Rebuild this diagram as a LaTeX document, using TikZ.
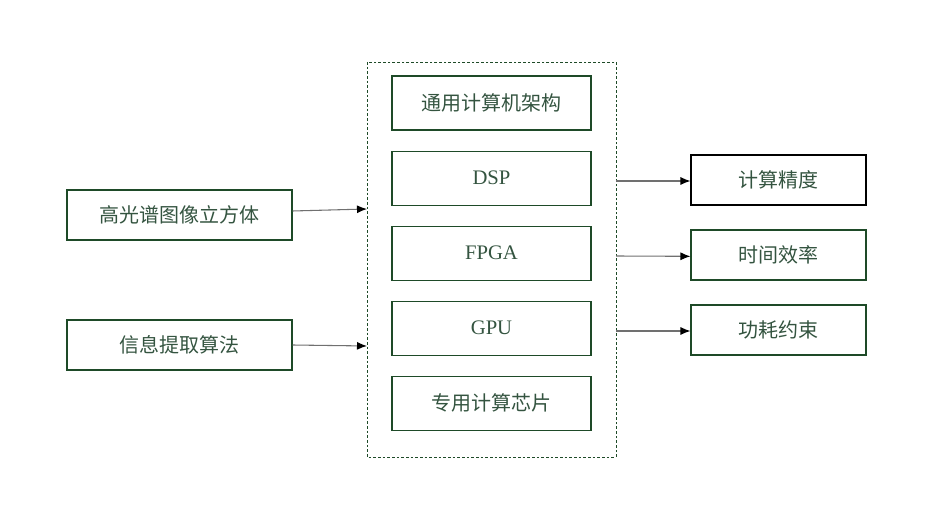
\documentclass[tikz,border=0pt]{standalone}
\usepackage{fontspec}
\setmainfont{Liberation Serif}
\newfontfamily\cjk{Noto Sans CJK SC}
\usetikzlibrary{arrows.meta,positioning}
\definecolor{cA}{HTML}{1e4a28}
\definecolor{cT}{HTML}{345440}
\definecolor{cL}{HTML}{707070}
\tikzset{
  box/.style={draw=cA,thick,text=cT,minimum width=168.75pt,minimum height=37.5pt,
              inner sep=0pt,font=\cjk\fontsize{15}{17}\selectfont},
  inbox/.style={box,minimum width=149.25pt,minimum height=40.5pt},
  outbox/.style={box,minimum width=131.25pt,minimum height=37.5pt},
  latin/.style={font=\fontsize{15.5}{17}\selectfont},
  frame/.style={draw=cA,dashed,dash pattern=on 2pt off 1.5pt,thin},
  flow/.style={-{Latex[length=7.5pt,width=6pt,black]},cL,thick},
}
\begin{document}
\begin{tikzpicture}[x=0.75pt,y=-0.75pt]
  \useasboundingbox (0,0) rectangle (942,523);
  % computing platforms in the middle
  \draw[frame] (367,62) rectangle (616,457);
  \coordinate (fw1) at (367,209);
  \coordinate (fw2) at (367,346);
  \coordinate (fe1) at (616,181);
  \coordinate (fe2) at (616,256);
  \coordinate (fe3) at (616,331);
  \node[inbox] (gen) at (491.5,103) {通用计算机架构};
  \node[inbox,latin,below=15pt of gen] (dsp) {DSP};
  \node[inbox,latin,below=15pt of dsp] (fpga) {FPGA};
  \node[inbox,latin,below=15pt of fpga] (gpu) {GPU};
  \node[inbox,below=15pt of gpu] (asic) {专用计算芯片};
  % inputs
  \node[box] (cube) at (179.5,215) {高光谱图像立方体};
  \node[box] (algo) at (179.5,345) {信息提取算法};
  % constraints
  \node[outbox,draw=black] (prec) at (778.5,180) {计算精度};
  \node[outbox] (time) at (778.5,255) {时间效率};
  \node[outbox] (power) at (778.5,330) {功耗约束};
  \draw[flow] ([yshift=3pt]cube.east) -- (fw1);
  \draw[flow] (algo.east) -- (fw2);
  \draw[flow] (fe1) -- (prec.west|-fe1);
  \draw[flow] (fe2) -- ([yshift=-1pt]time.west);
  \draw[flow] (fe3) -- (power.west|-fe3);
\end{tikzpicture}
\end{document}
